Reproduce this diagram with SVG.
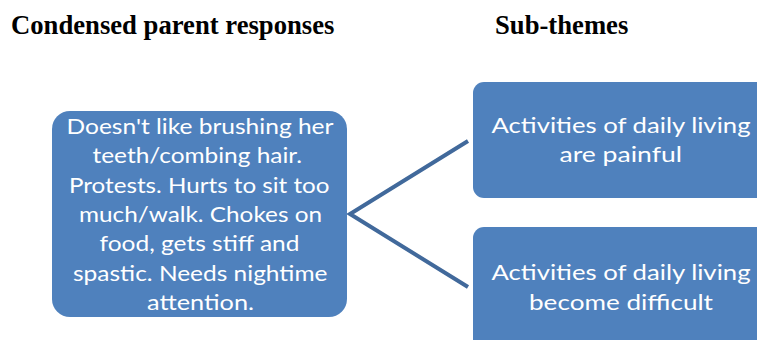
<svg xmlns="http://www.w3.org/2000/svg" width="757" height="340" viewBox="0 0 757 340">
<style>
.hdr{font-family:"Liberation Serif","Times New Roman",serif;font-weight:bold;font-size:26.67px;fill:#000}
.box{fill:#4F81BD}
.lbl{font-family:Lato,"Open Sans",sans-serif;font-size:22px;fill:#fff}
.conn{fill:none;stroke:#41699B;stroke-width:4}
</style>
<rect width="757" height="340" fill="#fff"/>
<text class="hdr" x="11" y="34">Condensed parent responses</text>
<text class="hdr" x="495" y="34">Sub-themes</text>
<g id="connectors">
<polyline class="conn" points="468,141 350,214 468,287"/>
</g>
<g id="node-responses">
<rect class="box" x="52" y="111" width="295" height="206" rx="18"/>
<text class="lbl" x="66.5" y="134" textLength="267" lengthAdjust="spacingAndGlyphs">Doesn't like brushing her</text>
<text class="lbl" x="92.5" y="163.3" textLength="209.5" lengthAdjust="spacingAndGlyphs">teeth/combing hair.</text>
<text class="lbl" x="69" y="192.7" textLength="260.5" lengthAdjust="spacingAndGlyphs">Protests. Hurts to sit too</text>
<text class="lbl" x="79" y="222" textLength="243" lengthAdjust="spacingAndGlyphs">much/walk. Chokes on</text>
<text class="lbl" x="99.5" y="251.3" textLength="200" lengthAdjust="spacingAndGlyphs">food, gets stiff and</text>
<text class="lbl" x="73" y="280.7" textLength="254.5" lengthAdjust="spacingAndGlyphs">spastic. Needs nightime</text>
<text class="lbl" x="147" y="310" textLength="107" lengthAdjust="spacingAndGlyphs">attention.</text>
</g>
<g id="node-painful">
<rect class="box" x="473" y="82" width="300" height="116" rx="11"/>
<text class="lbl" x="491.5" y="132.7" textLength="259" lengthAdjust="spacingAndGlyphs">Activities of daily living</text>
<text class="lbl" x="559.5" y="162" textLength="122.5" lengthAdjust="spacingAndGlyphs">are painful</text>
</g>
<g id="node-difficult">
<rect class="box" x="473" y="227" width="300" height="130" rx="11"/>
<text class="lbl" x="491.5" y="280" textLength="259" lengthAdjust="spacingAndGlyphs">Activities of daily living</text>
<text class="lbl" x="529" y="309.5" textLength="184" lengthAdjust="spacingAndGlyphs">become difficult</text>
</g>
</svg>
